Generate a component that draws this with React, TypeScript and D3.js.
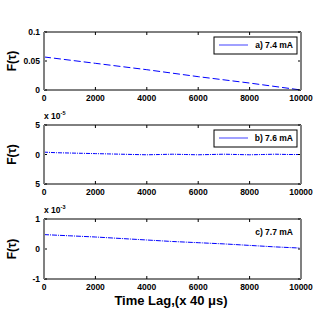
import { useRef, useEffect } from 'react';
import * as d3 from 'd3';

const W = 332;
const H = 312;
const FONT = 'Liberation Sans, Arial, sans-serif';
const GRAY = '#808080';

// x ticks shared by all panels
const xTicks = [0, 2000, 4000, 6000, 8000, 10000];

// a) 7.4 mA
const lagA = [0, 2000, 4000, 6000, 8000, 10000];
const valA = [0.057, 0.046, 0.035, 0.023, 0.012, 0.0];

// b) 7.6 mA, units of 1e-5
const lagB = [0, 500, 1000, 1500, 2000, 2500, 3000, 3500, 4000, 4500, 5000, 5500, 6000, 6500, 7000, 7500, 8000, 8500, 9000, 9500, 10000];
const valB = [0.4, 0.3, 0.25, 0.2, 0.15, 0.1, 0.05, 0.0, -0.05, 0.0, 0.05, 0.0, -0.05, 0.0, 0.05, 0.0, -0.05, 0.0, 0.05, 0.0, 0.0];

// c) 7.7 mA, units of 1e-3
const lagC = [0, 1000, 2000, 3000, 4000, 5000, 6000, 7000, 8000, 9000, 10000];
const valC = [0.48, 0.44, 0.4, 0.35, 0.3, 0.25, 0.21, 0.17, 0.12, 0.07, 0.03];

const panels = [
  { top: 32, bottom: 90, lag: lagA, val: valA, yDomain: [0, 0.1], yTicks: [0, 0.05, 0.1], yLabels: ['0', '0.05', '0.1'], exp: '', legend: 'a) 7.4 mA', box: true, dash: '7,3' },
  { top: 125, bottom: 184, lag: lagB, val: valB, yDomain: [-5, 5], yTicks: [-5, 0, 5], yLabels: ['5', '0', '5'], exp: '-5', legend: 'b) 7.6 mA', box: true, dash: '4,1,1,1' },
  { top: 219, bottom: 279, lag: lagC, val: valC, yDomain: [-1, 1], yTicks: [-1, 0, 1], yLabels: ['-1', '0', '1'], exp: '-3', legend: 'c) 7.7 mA', box: false, dash: '5,1,1,1' },
];

const App = () => {
  const svgRef = useRef(null);

  useEffect(() => {
    const svg = d3.select(svgRef.current);
    svg.selectAll('*').remove();
    svg.append('rect').attr('width', W).attr('height', H).attr('fill', 'white');

    const x = d3.scaleLinear().domain([0, 10000]).range([44, 301]);

    panels.forEach((p) => {
      const y = d3.scaleLinear().domain(p.yDomain).range([p.bottom, p.top]);
      const g = svg.append('g');

      // data line
      const line = d3.line().x((d) => x(d[0])).y((d) => y(d[1]));
      g.append('path')
        .datum(p.lag.map((l, i) => [l, p.val[i]]))
        .attr('d', line)
        .attr('fill', 'none')
        .attr('stroke', '#0000ff')
        .attr('stroke-width', 1)
        .attr('stroke-dasharray', p.dash);

      // inward ticks (MATLAB style)
      xTicks.forEach((t) => {
        g.append('line').attr('x1', x(t)).attr('x2', x(t)).attr('y1', p.bottom).attr('y2', p.bottom - 3).attr('stroke', 'black');
        g.append('line').attr('x1', x(t)).attr('x2', x(t)).attr('y1', p.top).attr('y2', p.top + 3).attr('stroke', 'black');
        g.append('text')
          .attr('x', x(t))
          .attr('y', p.bottom + 11)
          .attr('text-anchor', 'middle')
          .attr('font-family', FONT)
          .attr('font-weight', 'bold')
          .attr('font-size', 8.5)
          .text(t);
      });
      p.yTicks.forEach((t, i) => {
        g.append('line').attr('x1', 44).attr('x2', 47).attr('y1', y(t)).attr('y2', y(t)).attr('stroke', 'black');
        g.append('line').attr('x1', 301).attr('x2', 298).attr('y1', y(t)).attr('y2', y(t)).attr('stroke', 'black');
        g.append('text')
          .attr('x', 40)
          .attr('y', y(t) + 3)
          .attr('text-anchor', 'end')
          .attr('font-family', FONT)
          .attr('font-weight', 'bold')
          .attr('font-size', 8.5)
          .text(p.yLabels[i]);
      });

      // frame: black top/bottom, gray left/right
      g.append('line').attr('x1', 44).attr('x2', 301).attr('y1', p.top).attr('y2', p.top).attr('stroke', 'black');
      g.append('line').attr('x1', 44).attr('x2', 301).attr('y1', p.bottom).attr('y2', p.bottom).attr('stroke', 'black');
      g.append('line').attr('x1', 44).attr('x2', 44).attr('y1', p.top).attr('y2', p.bottom).attr('stroke', GRAY).attr('stroke-width', 2);
      g.append('line').attr('x1', 301).attr('x2', 301).attr('y1', p.top).attr('y2', p.bottom).attr('stroke', GRAY).attr('stroke-width', 2);

      // exponent
      if (p.exp) {
        const e = g.append('text')
          .attr('x', 44)
          .attr('y', p.top - 6)
          .attr('font-family', FONT)
          .attr('font-weight', 'bold')
          .attr('font-size', 8.5);
        e.append('tspan').text('x 10');
        e.append('tspan').attr('dy', -4).attr('font-size', 5.5).text(p.exp);
      }

      // y label
      g.append('text')
        .attr('transform', `translate(16,${(p.top + p.bottom) / 2}) rotate(-90)`)
        .attr('text-anchor', 'middle')
        .attr('font-family', FONT)
        .attr('font-weight', 'bold')
        .attr('font-size', 12)
        .text('F(τ)');

      // legend
      const ly = p.top + 13;
      if (p.box) {
        g.append('rect')
          .attr('x', 214)
          .attr('y', p.top + 5)
          .attr('width', 83)
          .attr('height', 17)
          .attr('fill', 'white')
          .attr('stroke', 'black');
        g.append('line').attr('x1', 219).attr('x2', 248).attr('y1', ly).attr('y2', ly).attr('stroke', '#8080ff').attr('stroke-width', 1.5);
      }
      g.append('text')
        .attr('x', 293)
        .attr('y', ly + 3)
        .attr('text-anchor', 'end')
        .attr('font-family', FONT)
        .attr('font-weight', 'bold')
        .attr('font-size', 8.5)
        .text(p.legend);
    });

    // x label
    svg.append('text')
      .attr('x', 171)
      .attr('y', 305)
      .attr('text-anchor', 'middle')
      .attr('font-family', FONT)
      .attr('font-weight', 'bold')
      .attr('font-size', 13)
      .text('Time Lag,(x 40 μs)');
  }, []);

  return <svg ref={svgRef} width={W} height={H} style={{ position: 'absolute', left: 0, top: 0 }} />;
};

export default App;
